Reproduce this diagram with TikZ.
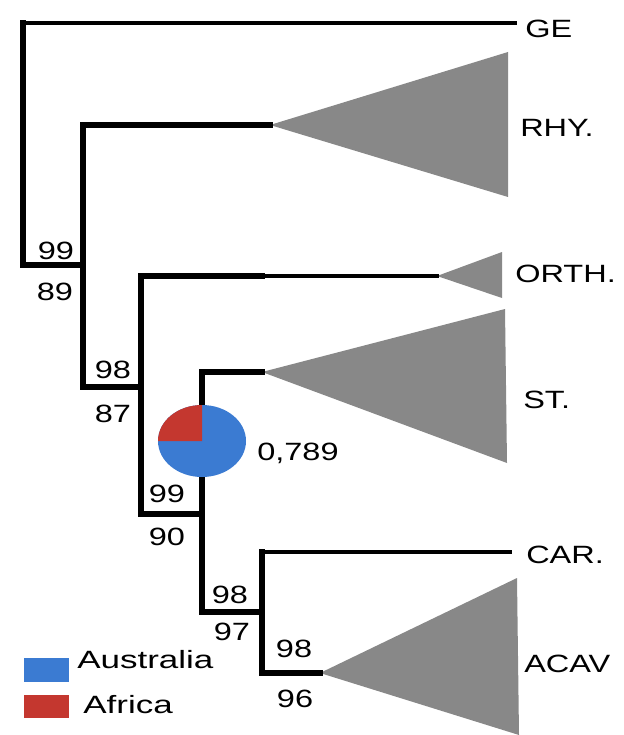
\documentclass[tikz,border=0pt]{standalone}
\usepackage{fontspec}
\setmainfont{Liberation Sans}
\definecolor{clade}{HTML}{888888}
\definecolor{aus}{HTML}{3B7BD2}
\definecolor{afr}{HTML}{C4372F}
\tikzset{
  branch/.style={line width=5.5pt, line join=miter, line cap=rect, black},
  thinbranch/.style={line width=4pt, line cap=rect, black},
  cladetri/.style={fill=clade, draw=none},
  taxon/.style={font=\fontsize{25}{30}\selectfont, inner sep=0pt, anchor=base west, xscale=1.3},
  support/.style={font=\fontsize{25}{30}\selectfont, inner sep=0pt, anchor=base, xscale=1.3},
  legtxt/.style={font=\fontsize{25}{30}\selectfont, inner sep=0pt, anchor=base west, xscale=1.4},
}
\begin{document}
\begin{tikzpicture}[x=1pt,y=-1pt]
\useasboundingbox (0,0) rectangle (623,735);
% internal nodes of the tree
\coordinate (root) at (23,23);
\coordinate (rootb) at (23,265);
\coordinate (n1) at (83,265);
\coordinate (n1t) at (83,125);
\coordinate (n1b) at (83,387);
\coordinate (n2) at (141,387);
\coordinate (n2t) at (141,276);
\coordinate (n2b) at (141,514);
\coordinate (n3) at (202,514);
\coordinate (n3t) at (202,372);
\coordinate (n3b) at (202,612);
\coordinate (n4) at (262,612);
\coordinate (n4t) at (262,552);
\coordinate (n4b) at (262,673);
% tips
\coordinate (GEtip) at (515,23);
\coordinate (RHYa) at (270,125);
\coordinate (ORTHm) at (262,276);
\coordinate (ORTHa) at (437,276);
\coordinate (STa) at (262,372);
\coordinate (CARtip) at (510,552);
\coordinate (ACAVa) at (320,673);

% clade triangles
\fill[cladetri] (RHYa) -- (508,52) -- (508,197) -- cycle;
\fill[cladetri] (ORTHa) -- (502,252) -- (502,298) -- cycle;
\fill[cladetri] (STa) -- (505,309) -- (507,463) -- cycle;
\fill[cladetri] (ACAVa) -- (517,578) -- (519,735) -- cycle;

% branches
\draw[thinbranch] (GEtip) -- (root);
\draw[branch] (root) -- (rootb) -- (n1);
\draw[branch] (RHYa) -- (n1t) -- (n1b) -- (n2);
\draw[branch] (ORTHm) -- (n2t) -- (n2b) -- (n3);
\draw[thinbranch] (ORTHm) -- (ORTHa);
\draw[branch] (STa) -- (n3t) -- (n3b) -- (n4);
\draw[thinbranch] (CARtip) -- (n4t);
\draw[branch] (n4t) -- (n4b) -- (ACAVa);

% pie chart
\coordinate (pie) at (202,441);
\fill[aus] (pie) ellipse[x radius=44, y radius=36];
\fill[afr] (pie) -- +(-44,0) arc[start angle=180, end angle=270, x radius=44, y radius=36] -- cycle;
\node[taxon] (pp) at (257,460) {0,789};

% taxon labels
\node[taxon] (GE) at (525,38) {GE};
\node[taxon] (RHY) at (520,137) {RHY.};
\node[taxon] (ORTH) at (515,282) {ORTH.};
\node[taxon] (ST) at (523,408) {ST.};
\node[taxon] (CAR) at (526,563) {CAR.};
\node[taxon] (ACAV) at (524,672) {ACAV};

% support values
\node[support] (s1a) at (56,259) {99};
\node[support] (s1b) at (55,300) {89};
\node[support] (s2a) at (113,378) {98};
\node[support] (s2b) at (113,422) {87};
\node[support] (s3a) at (167,502) {99};
\node[support] (s3b) at (167,545) {90};
\node[support] (s4a) at (230,603) {98};
\node[support] (s4b) at (232,640) {97};
\node[support] (s5a) at (294,657) {98};
\node[support] (s5b) at (295,707) {96};

% legend
\fill[aus] (24,658) rectangle (69,682);
\fill[afr] (24,695) rectangle (69,718);
\node[legtxt] (lAus) at (77,668) {Australia};
\node[legtxt] (lAfr) at (83,713) {Africa};
\end{tikzpicture}
\end{document}
